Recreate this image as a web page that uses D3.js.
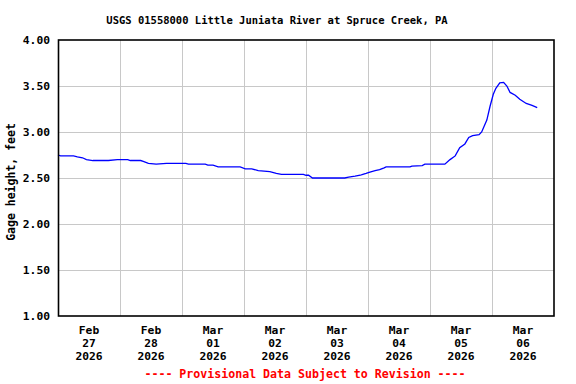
<!DOCTYPE html>
<html>
<head>
<meta charset="utf-8">
<script src="https://cdn.jsdelivr.net/npm/d3@7"></script>
<style>
  body { margin: 0; background: #fff; }
  text { font-family: "DejaVu Sans Mono", monospace; font-weight: bold; }
</style>
</head>
<body>
<div id="chart"></div>
<script>
// Chart data
const title = "USGS 01558000 Little Juniata River at Spruce Creek, PA";
const yLabel = "Gage height, feet";
const footer = "---- Provisional Data Subject to Revision ----";

const obsTimes = [
  "2026-02-27 00:00", "2026-02-27 01:00", "2026-02-27 06:00", "2026-02-27 07:30",
  "2026-02-27 09:30", "2026-02-27 11:00", "2026-02-27 13:30", "2026-02-27 19:30",
  "2026-02-27 23:00", "2026-02-28 03:00", "2026-02-28 04:00", "2026-02-28 08:00",
  "2026-02-28 09:00", "2026-02-28 11:00", "2026-02-28 14:00", "2026-02-28 18:00",
  "2026-03-01 01:30", "2026-03-01 02:30", "2026-03-01 09:00", "2026-03-01 10:00",
  "2026-03-01 12:00", "2026-03-01 14:00", "2026-03-01 22:30", "2026-03-02 00:30",
  "2026-03-02 03:00", "2026-03-02 05:30", "2026-03-02 10:00", "2026-03-02 12:30",
  "2026-03-02 14:30", "2026-03-02 23:00", "2026-03-03 00:00", "2026-03-03 01:00",
  "2026-03-03 02:30", "2026-03-03 15:00", "2026-03-03 16:30", "2026-03-03 19:00",
  "2026-03-03 21:00", "2026-03-03 22:00", "2026-03-03 23:15", "2026-03-04 00:45",
  "2026-03-04 02:45", "2026-03-04 04:30", "2026-03-04 06:15", "2026-03-04 07:00",
  "2026-03-04 16:15", "2026-03-04 17:00", "2026-03-04 21:00", "2026-03-04 22:00",
  "2026-03-05 05:45", "2026-03-05 07:45", "2026-03-05 09:45", "2026-03-05 11:30",
  "2026-03-05 13:30", "2026-03-05 15:00", "2026-03-05 16:30", "2026-03-05 19:00",
  "2026-03-05 20:00", "2026-03-05 22:00", "2026-03-05 23:15", "2026-03-06 00:30",
  "2026-03-06 01:30", "2026-03-06 03:00", "2026-03-06 04:30", "2026-03-06 05:45",
  "2026-03-06 07:00", "2026-03-06 09:00", "2026-03-06 10:45", "2026-03-06 13:15",
  "2026-03-06 15:30", "2026-03-06 17:30"
];

const gageHeight = [
  2.75, 2.74, 2.74, 2.73,
  2.72, 2.70, 2.69, 2.69,
  2.70, 2.70, 2.69, 2.69,
  2.68, 2.66, 2.65, 2.66,
  2.66, 2.65, 2.65, 2.64,
  2.64, 2.62, 2.62, 2.60,
  2.60, 2.58, 2.57, 2.55,
  2.54, 2.54, 2.53, 2.53,
  2.50, 2.50, 2.51, 2.52,
  2.53, 2.54, 2.55, 2.565,
  2.58, 2.59, 2.61, 2.62,
  2.62, 2.63, 2.635, 2.65,
  2.65, 2.70, 2.74, 2.83,
  2.87, 2.94, 2.96, 2.97,
  3.00, 3.13, 3.28, 3.41,
  3.475, 3.535, 3.54, 3.50,
  3.43, 3.40, 3.355, 3.31,
  3.29, 3.265
];

// x tick labels (one per day, centred at noon)
const dayTicks = ["2026-02-27", "2026-02-28", "2026-03-01", "2026-03-02",
  "2026-03-03", "2026-03-04", "2026-03-05", "2026-03-06"];
const yTicks = [1.0, 1.5, 2.0, 2.5, 3.0, 3.5, 4.0];

const width = 576;
const height = 384;
const margin = { top: 40, right: 22, bottom: 68, left: 58 };

const parseTime = d3.timeParse("%Y-%m-%d %H:%M");
const parseDay = d3.timeParse("%Y-%m-%d");

const data = obsTimes.map((t, i) => ({ t: parseTime(t), v: gageHeight[i] }));
const days = dayTicks.map(parseDay);

const x = d3.scaleTime()
  .domain([days[0], d3.timeDay.offset(days[days.length - 1], 1)])
  .range([margin.left, width - margin.right]);

const y = d3.scaleLinear()
  .domain([1, 4])
  .range([height - margin.bottom, margin.top]);

const svg = d3.select("#chart").append("svg")
  .attr("width", width)
  .attr("height", height);

// grid
const grid = svg.append("g").attr("shape-rendering", "crispEdges");
grid.selectAll(".hgrid")
  .data(yTicks.slice(1, -1))
  .enter().append("line")
  .attr("x1", margin.left).attr("x2", width - margin.right)
  .attr("y1", (d) => Math.round(y(d)) + 0.5).attr("y2", (d) => Math.round(y(d)) + 0.5)
  .attr("stroke", "#c8c8c8");
grid.selectAll(".vgrid")
  .data(days.slice(1))
  .enter().append("line")
  .attr("x1", (d) => Math.round(x(d)) + 0.5).attr("x2", (d) => Math.round(x(d)) + 0.5)
  .attr("y1", margin.top).attr("y2", height - margin.bottom)
  .attr("stroke", "#c8c8c8");

// series
const line = d3.line()
  .x((d) => x(d.t))
  .y((d) => y(d.v));

svg.append("path")
  .datum(data)
  .attr("fill", "none")
  .attr("stroke", "#0000ff")
  .attr("stroke-width", 1.3)
  .attr("d", line);

// frame
svg.append("rect")
  .attr("x", margin.left + 0.5)
  .attr("y", margin.top)
  .attr("width", width - margin.left - margin.right - 0.5)
  .attr("height", height - margin.top - margin.bottom)
  .attr("fill", "none")
  .attr("stroke", "#000")
  .attr("stroke-width", 1.6);

// y axis
const yAxis = svg.append("g")
  .attr("transform", `translate(${margin.left},0)`)
  .call(d3.axisLeft(y).tickValues(yTicks).tickFormat(d3.format(".2f")).tickSize(0).tickPadding(8));
yAxis.select(".domain").remove();
yAxis.selectAll("text")
  .attr("font-size", "11.3px")
  .attr("font-family", null)
  .attr("fill", "#000");

// x axis: three-line labels at noon of each day
const fmtMon = d3.timeFormat("%b");
const fmtDay = d3.timeFormat("%d");
const fmtYear = d3.timeFormat("%Y");
const xLab = svg.append("g").selectAll("text")
  .data(days)
  .enter().append("text")
  .attr("x", (d) => x(d3.timeHour.offset(d, 12)))
  .attr("y", 334)
  .attr("text-anchor", "middle")
  .attr("font-size", "11.3px");
xLab.append("tspan").text(fmtMon);
xLab.append("tspan").attr("x", (d) => x(d3.timeHour.offset(d, 12))).attr("dy", 13).text(fmtDay);
xLab.append("tspan").attr("x", (d) => x(d3.timeHour.offset(d, 12))).attr("dy", 13).text(fmtYear);

// titles
svg.append("text")
  .attr("x", 277).attr("y", 24)
  .attr("text-anchor", "middle")
  .attr("font-size", "10.5px")
  .text(title);

svg.append("text")
  .attr("transform", "translate(15,182) rotate(-90)")
  .attr("text-anchor", "middle")
  .attr("font-size", "11.5px")
  .text(yLabel);

svg.append("text")
  .attr("x", 305).attr("y", 378)
  .attr("text-anchor", "middle")
  .attr("font-size", "11.6px")
  .attr("fill", "#ff0000")
  .text(footer);
</script>
</body>
</html>
